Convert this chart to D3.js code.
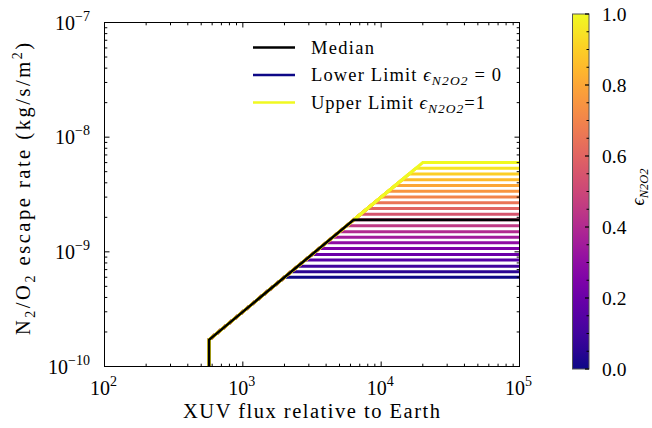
<!DOCTYPE html>
<html>
<head>
<meta charset="utf-8">
<script src="https://cdn.jsdelivr.net/npm/d3@7"></script>
<style>
  html, body { margin: 0; padding: 0; background: #fff; }
  svg text { font-family: "Liberation Serif", "DejaVu Serif", serif; fill: #000; }
</style>
</head>
<body>
<svg id="chart" width="652" height="428"></svg>
<script>
// Escape efficiency values, one line per value
const epsValues = [0.00, 0.05, 0.10, 0.15, 0.20, 0.25, 0.30, 0.35, 0.40, 0.45, 0.50,
                   0.55, 0.60, 0.65, 0.70, 0.75, 0.80, 0.85, 0.90, 0.95, 1.00];
// Saturated (energy-limited plateau) escape rate for each efficiency, kg/s/m^2
const plateauRate = [6.0e-10, 6.7e-10, 7.5e-10, 8.5e-10, 9.5e-10, 1.07e-9, 1.2e-9,
                     1.34e-9, 1.5e-9, 1.69e-9, 1.9e-9, 2.13e-9, 2.39e-9, 2.68e-9,
                     3.01e-9, 3.38e-9, 3.79e-9, 4.25e-9, 4.77e-9, 5.35e-9, 6.0e-9];
// XUV flux at which each line reaches its plateau
const kneeFlux = [2000, 2230, 2500, 2830, 3170, 3570, 4000, 4470, 5000, 5630, 6330,
                  7100, 7970, 8930, 10030, 11270, 12630, 14170, 15900, 17830, 20000];
// Escape onset: flux threshold and the rate there
const onsetFlux = 570;
const onsetRate = 1.71e-10;
const floorRate = 1e-10;
const maxFlux = 1e5;
const medianIndex = 10;

const xTickValues = [1e2, 1e3, 1e4, 1e5];
const yTickValues = [1e-10, 1e-9, 1e-8, 1e-7];
const cbTickValues = [0.0, 0.2, 0.4, 0.6, 0.8, 1.0];

const svg = d3.select("#chart");
const L = 104.5, R = 519.5, T = 22.5, B = 366.5;

const x = d3.scaleLog().domain([1e2, 1e5]).range([L, R]);
const y = d3.scaleLog().domain([1e-10, 1e-7]).range([B, T]);
const color = d3.scaleSequential(d3.interpolatePlasma).domain([0, 1]);

function linePoints(i) {
  return [
    [onsetFlux, floorRate],
    [onsetFlux, onsetRate],
    [kneeFlux[i], plateauRate[i]],
    [maxFlux, plateauRate[i]]
  ];
}
const line = d3.line().x(d => x(d[0])).y(d => y(d[1]));

const defs = svg.append("defs");
defs.append("clipPath").attr("id", "plotClip")
  .append("rect").attr("x", L).attr("y", T).attr("width", R - L).attr("height", B - T);

const plot = svg.append("g").attr("clip-path", "url(#plotClip)");
epsValues.forEach((e, i) => {
  plot.append("path")
    .attr("d", line(linePoints(i)))
    .attr("fill", "none")
    .attr("stroke", color(e))
    .attr("stroke-width", 3)
    .attr("stroke-linejoin", "miter");
});
plot.append("path")
  .attr("d", line(linePoints(medianIndex)))
  .attr("fill", "none")
  .attr("stroke", "#000")
  .attr("stroke-width", 2.6);

// Frame
svg.append("rect").attr("x", L).attr("y", T).attr("width", R - L).attr("height", B - T)
  .attr("fill", "none").attr("stroke", "#000").attr("stroke-width", 1);

// Log ticks on all four sides, pointing inward
function minorTicks(domain) {
  const out = [];
  const lo = Math.round(Math.log10(domain[0])), hi = Math.round(Math.log10(domain[1]));
  for (let p = lo; p < hi; p++) for (let m = 2; m <= 9; m++) out.push(m * Math.pow(10, p));
  return out;
}
const ticks = svg.append("g").attr("stroke", "#000").attr("stroke-width", 1);
const xMinor = minorTicks(x.domain()), yMinor = minorTicks(y.domain());
[[xTickValues, 5], [xMinor, 2.8]].forEach(([vals, len]) => {
  vals.forEach(v => {
    ticks.append("line").attr("x1", x(v)).attr("x2", x(v)).attr("y1", B).attr("y2", B - len);
    ticks.append("line").attr("x1", x(v)).attr("x2", x(v)).attr("y1", T).attr("y2", T + len);
  });
});
[[yTickValues, 5], [yMinor, 2.8]].forEach(([vals, len]) => {
  vals.forEach(v => {
    ticks.append("line").attr("y1", y(v)).attr("y2", y(v)).attr("x1", L).attr("x2", L + len);
    ticks.append("line").attr("y1", y(v)).attr("y2", y(v)).attr("x1", R).attr("x2", R - len);
  });
});

// Tick labels as 10^n
function powLabel(g, exp) {
  g.append("tspan").text("10");
  g.append("tspan").attr("dy", -9).attr("font-size", 14).text(exp < 0 ? "\u2212" + (-exp) : String(exp));
}
xTickValues.forEach(v => {
  const t = svg.append("text").attr("x", x(v) - 1).attr("y", 395)
    .attr("text-anchor", "middle").attr("font-size", 20);
  powLabel(t, Math.round(Math.log10(v)));
});
yTickValues.forEach(v => {
  const t = svg.append("text").attr("x", 90).attr("y", y(v) + 7)
    .attr("text-anchor", "end").attr("font-size", 20);
  powLabel(t, Math.round(Math.log10(v)));
});

// Axis titles
svg.append("text").attr("x", 311.5).attr("y", 418)
  .attr("text-anchor", "middle").attr("font-size", 20.5)
  .attr("textLength", 257).attr("lengthAdjust", "spacing")
  .text("XUV flux relative to Earth");

const yl = svg.append("text").attr("transform", "translate(30,189) rotate(-90)")
  .attr("text-anchor", "middle").attr("font-size", 20.5)
  .attr("textLength", 292).attr("lengthAdjust", "spacing");
yl.append("tspan").text("N");
yl.append("tspan").attr("font-size", 14).attr("dy", 5).text("2");
yl.append("tspan").attr("dy", -5).text("/O");
yl.append("tspan").attr("font-size", 14).attr("dy", 5).text("2");
yl.append("tspan").attr("dy", -5).text(" escape rate (kg/s/m");
yl.append("tspan").attr("font-size", 14).attr("dy", -8).text("2");
yl.append("tspan").attr("dy", 8).text(")");

// Legend
const legendItems = [
  { label: "Median", color: "#000", sub: null, tail: "", width: 63 },
  { label: "Lower Limit ", color: color(0), sub: "N2O2", tail: " = 0", width: 190 },
  { label: "Upper Limit ", color: color(1), sub: "N2O2", tail: "=1", width: 174 }
];
const legendY = [47.5, 75, 102.5];
legendItems.forEach((d, i) => {
  svg.append("line").attr("x1", 253).attr("x2", 295)
    .attr("y1", legendY[i]).attr("y2", legendY[i])
    .attr("stroke", d.color).attr("stroke-width", 2.6);
  const t = svg.append("text").attr("x", 311).attr("y", legendY[i] + 6).attr("font-size", 18.5)
    .attr("textLength", d.width).attr("lengthAdjust", "spacing")
    .attr("xml:space", "preserve");
  t.append("tspan").text(d.label);
  if (d.sub) {
    t.append("tspan").attr("font-style", "italic").text("\u03F5");
    t.append("tspan").attr("font-style", "italic").attr("font-size", 13.5).attr("dy", 4).text(d.sub);
    t.append("tspan").attr("dy", -4).text(d.tail);
  }
});

// Colorbar
const cbX = 572.5, cbW = 16.5, cbT = 14, cbB = 369;
const cb = d3.scaleLinear().domain([0, 1]).range([cbB, cbT]);
const grad = defs.append("linearGradient").attr("id", "plasmaGrad")
  .attr("x1", 0).attr("y1", 1).attr("x2", 0).attr("y2", 0);
d3.range(0, 1.0001, 0.05).forEach(s => {
  grad.append("stop").attr("offset", s).attr("stop-color", color(s));
});
svg.append("rect").attr("x", cbX).attr("y", cbT).attr("width", cbW).attr("height", cbB - cbT)
  .attr("fill", "url(#plasmaGrad)").attr("stroke", "#555").attr("stroke-width", 1);
const cbMinor = d3.range(0.05, 1, 0.05).filter(v => Math.abs(v * 5 - Math.round(v * 5)) > 1e-6);
cbMinor.forEach(v => {
  svg.append("line").attr("x1", cbX + cbW).attr("x2", cbX + cbW - 2.5)
    .attr("y1", cb(v)).attr("y2", cb(v)).attr("stroke", "#000").attr("stroke-width", 1);
});
cbTickValues.forEach(v => {
  svg.append("line").attr("x1", cbX + cbW).attr("x2", cbX + cbW - 4)
    .attr("y1", cb(v)).attr("y2", cb(v)).attr("stroke", "#000").attr("stroke-width", 1.2);
  svg.append("text").attr("x", 602).attr("y", cb(v) + 6.5).attr("font-size", 19.5)
    .text(v.toFixed(1));
});
const cl = svg.append("text").attr("transform", "translate(644,187) rotate(-90)")
  .attr("text-anchor", "middle").attr("font-size", 18).attr("font-style", "italic");
cl.append("tspan").text("\u03F5");
cl.append("tspan").attr("font-size", 12.5).attr("dy", 3.5).text("N2O2");
</script>
</body>
</html>
